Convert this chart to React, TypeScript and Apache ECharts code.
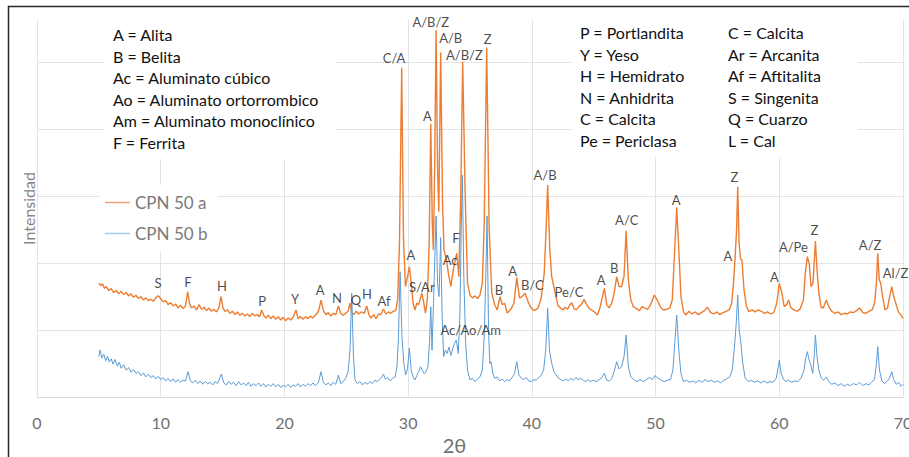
import React, { useEffect, useRef } from "react";
import * as echarts from "echarts";

const xTicks = [0, 10, 20, 30, 40, 50, 60, 70];
const seriesNames = ["CPN 50 a", "CPN 50 b"];

const cpn50a: [number, number][] = [
  [5.0,1700],[5.15,1660],[5.3,1690],[5.45,1620],[5.6,1650],[5.8,1590],[6.0,1620],[6.2,1560],[6.4,1590],[6.6,1540],[6.8,1580],[7.0,1530],[7.2,1560],[7.4,1510],[7.6,1540],[7.8,1490],[8.0,1520],[8.2,1470],[8.4,1500],[8.6,1450],[8.8,1480],[9.0,1440],[9.2,1460],[9.4,1430],[9.6,1480],[9.8,1512],[10.0,1470],[10.2,1420],[10.4,1440],[10.6,1380],[10.8,1410],[11.0,1360],[11.2,1390],[11.4,1330],[11.6,1370],[11.8,1320],[12.0,1360],[12.18,1572],[12.35,1380],[12.5,1330],[12.7,1360],[12.9,1300],[13.1,1380],[13.3,1310],[13.5,1340],[13.7,1290],[13.9,1330],[14.1,1280],[14.3,1310],[14.5,1270],[14.7,1330],[14.87,1498],[15.05,1320],[15.2,1280],[15.4,1300],[15.6,1250],[15.8,1280],[16.0,1230],[16.2,1270],[16.4,1220],[16.6,1250],[16.8,1210],[17.0,1240],[17.2,1200],[17.4,1250],[17.6,1210],[17.8,1230],[18.0,1200],[18.16,1300],[18.35,1210],[18.5,1180],[18.7,1220],[18.9,1170],[19.1,1210],[19.3,1160],[19.5,1200],[19.7,1150],[19.9,1190],[20.1,1140],[20.3,1180],[20.5,1150],[20.7,1190],[20.94,1299],[21.1,1170],[21.3,1200],[21.5,1160],[21.7,1200],[21.9,1170],[22.1,1210],[22.3,1180],[22.5,1220],[22.75,1280],[22.96,1448],[23.15,1290],[23.35,1230],[23.55,1260],[23.75,1210],[23.95,1250],[24.15,1230],[24.36,1359],[24.55,1250],[24.75,1220],[24.95,1250],[25.15,1280],[25.3,1400],[25.45,1260],[25.6,1230],[25.8,1280],[26.0,1240],[26.2,1270],[26.45,1250],[26.65,1359],[26.85,1220],[27.0,1180],[27.2,1230],[27.4,1170],[27.6,1240],[27.8,1230],[28.0,1314],[28.2,1240],[28.4,1270],[28.6,1250],[28.8,1280],[29.0,1290],[29.15,1450],[29.3,2300],[29.48,4916],[29.62,2400],[29.78,1650],[29.9,1750],[30.1,1945],[30.25,1700],[30.4,1400],[30.55,1300],[30.7,1400],[30.85,1380],[31.0,1480],[31.1,1550],[31.25,1420],[31.4,1254],[31.55,1450],[31.7,2300],[31.83,4076],[31.95,2600],[32.04,2195],[32.15,3500],[32.26,5480],[32.38,3400],[32.48,2766],[32.63,5146],[32.78,2900],[32.9,2195],[33.1,2045],[33.25,1850],[33.45,1647],[33.65,1900],[33.93,2150],[34.1,1796],[34.25,3000],[34.41,5006],[34.6,3100],[34.8,1700],[35.0,1520],[35.2,1480],[35.4,1510],[35.6,1470],[35.8,1520],[36.0,1700],[36.15,2600],[36.35,5220],[36.55,2500],[36.76,1553],[37.0,1373],[37.2,1299],[37.43,1498],[37.6,1380],[37.8,1400],[38.0,1254],[38.3,1309],[38.55,1400],[38.78,1787],[39.0,1478],[39.2,1498],[39.45,1548],[39.7,1423],[39.9,1340],[40.1,1300],[40.3,1299],[40.5,1330],[40.75,1470],[41.0,1851],[41.15,2500],[41.28,3165],[41.45,2200],[41.6,1800],[41.8,1627],[42.1,1373],[42.3,1330],[42.5,1299],[42.7,1340],[42.9,1310],[43.05,1370],[43.22,1408],[43.4,1320],[43.6,1300],[43.8,1350],[44.0,1380],[44.22,1458],[44.4,1390],[44.6,1330],[44.8,1300],[45.0,1280],[45.15,1250],[45.3,1224],[45.5,1330],[45.65,1450],[45.86,1623],[46.05,1380],[46.25,1330],[46.45,1400],[46.65,1550],[46.86,1796],[47.05,1650],[47.25,1647],[47.45,1800],[47.62,2483],[47.8,1750],[48.0,1450],[48.2,1348],[48.45,1320],[48.7,1290],[48.9,1350],[49.1,1330],[49.35,1310],[49.6,1380],[49.9,1523],[50.15,1440],[50.4,1340],[50.65,1300],[50.9,1310],[51.15,1330],[51.35,1450],[51.52,2100],[51.71,2832],[51.88,2200],[52.05,1500],[52.25,1280],[52.45,1224],[52.7,1280],[52.95,1240],[53.2,1270],[53.45,1230],[53.7,1260],[53.95,1290],[54.2,1340],[54.45,1260],[54.7,1240],[54.95,1270],[55.2,1230],[55.45,1260],[55.7,1280],[55.95,1300],[56.15,1400],[56.3,1700],[56.43,2095],[56.55,2500],[56.64,3140],[56.75,2300],[56.87,2060],[56.98,2045],[57.15,1600],[57.35,1350],[57.55,1274],[57.8,1300],[58.05,1270],[58.3,1300],[58.55,1280],[58.8,1250],[59.05,1270],[59.3,1240],[59.55,1260],[59.8,1400],[60.0,1697],[60.2,1560],[60.4,1350],[60.6,1380],[60.75,1450],[60.95,1330],[61.2,1300],[61.45,1280],[61.7,1320],[61.95,1450],[62.1,1850],[62.27,2095],[62.42,1995],[62.57,1647],[62.72,1700],[62.82,2000],[62.92,2329],[63.05,1896],[63.2,1550],[63.38,1340],[63.55,1329],[63.8,1448],[64.0,1350],[64.25,1280],[64.5,1250],[64.75,1270],[65.0,1230],[65.25,1250],[65.5,1240],[65.75,1270],[66.0,1260],[66.25,1290],[66.5,1330],[66.75,1260],[67.0,1250],[67.25,1280],[67.5,1300],[67.7,1400],[67.85,1700],[67.96,2145],[68.08,1750],[68.2,1697],[68.35,1500],[68.55,1300],[68.75,1330],[68.9,1480],[69.09,1647],[69.25,1500],[69.45,1380],[69.65,1260],[69.85,1220],[70.0,1175]
];

const cpn50b: [number, number][] = [
  [5.0,600],[5.1,700],[5.25,580],[5.4,640],[5.55,540],[5.7,610],[5.85,520],[6.0,570],[6.15,490],[6.3,560],[6.5,460],[6.65,520],[6.8,430],[7.0,480],[7.2,400],[7.4,440],[7.6,370],[7.8,410],[8.0,350],[8.2,380],[8.4,320],[8.6,360],[8.8,300],[9.0,340],[9.2,290],[9.4,320],[9.6,270],[9.8,310],[10.0,260],[10.2,290],[10.4,240],[10.6,280],[10.8,230],[11.0,270],[11.2,220],[11.4,260],[11.6,220],[11.8,250],[12.0,240],[12.2,378],[12.4,240],[12.6,210],[12.8,250],[13.0,200],[13.2,240],[13.4,190],[13.6,230],[13.8,200],[14.0,220],[14.2,180],[14.4,230],[14.6,200],[14.9,343],[15.1,210],[15.3,180],[15.5,230],[15.7,190],[15.9,220],[16.1,170],[16.3,230],[16.5,180],[16.7,210],[16.9,170],[17.1,220],[17.3,160],[17.5,200],[17.7,170],[17.9,210],[18.1,160],[18.3,200],[18.5,150],[18.7,190],[18.9,160],[19.1,200],[19.3,150],[19.5,190],[19.7,140],[19.9,180],[20.1,150],[20.3,190],[20.5,140],[20.7,180],[20.9,160],[21.1,200],[21.3,150],[21.5,190],[21.7,160],[21.9,200],[22.1,170],[22.3,210],[22.5,170],[22.75,220],[22.96,378],[23.15,220],[23.35,180],[23.55,210],[23.75,170],[23.95,220],[24.15,190],[24.36,328],[24.55,200],[24.75,230],[24.95,280],[25.15,380],[25.3,700],[25.44,1548],[25.58,600],[25.7,260],[25.9,200],[26.1,230],[26.3,180],[26.5,220],[26.7,190],[26.9,230],[27.1,200],[27.3,250],[27.5,230],[27.7,270],[27.9,300],[28.0,343],[28.15,270],[28.35,290],[28.55,240],[28.75,280],[28.95,300],[29.1,450],[29.22,900],[29.35,1870],[29.5,900],[29.65,500],[29.8,330],[29.95,420],[30.1,730],[30.25,400],[30.4,300],[30.55,254],[30.7,320],[30.85,380],[31.0,452],[31.15,400],[31.3,350],[31.45,380],[31.6,450],[31.72,800],[31.83,1348],[31.93,700],[32.05,1400],[32.16,2100],[32.26,2700],[32.38,1700],[32.5,1500],[32.63,2380],[32.75,1200],[32.87,602],[33.0,700],[33.15,650],[33.3,746],[33.45,620],[33.6,720],[33.75,800],[33.9,851],[34.05,650],[34.18,1200],[34.3,2600],[34.38,3314],[34.5,1800],[34.65,800],[34.8,400],[35.0,254],[35.2,280],[35.4,230],[35.6,270],[35.8,300],[36.0,400],[36.15,900],[36.3,2000],[36.38,2700],[36.5,1000],[36.6,500],[36.7,527],[36.85,350],[37.0,280],[37.2,300],[37.4,240],[37.6,270],[37.8,230],[38.0,260],[38.2,240],[38.4,290],[38.6,350],[38.78,527],[38.95,330],[39.15,280],[39.35,260],[39.55,290],[39.75,240],[39.95,230],[40.15,260],[40.35,250],[40.55,290],[40.75,320],[40.95,400],[41.12,700],[41.28,1324],[41.42,700],[41.6,507],[41.78,380],[41.95,330],[42.15,280],[42.35,260],[42.55,240],[42.75,270],[42.95,240],[43.15,280],[43.35,250],[43.55,290],[43.75,260],[43.95,280],[44.15,250],[44.35,230],[44.55,260],[44.75,230],[44.95,250],[45.2,230],[45.45,260],[45.65,290],[45.86,354],[46.05,250],[46.25,240],[46.45,270],[46.65,380],[46.86,527],[47.05,420],[47.25,450],[47.45,600],[47.62,926],[47.8,450],[48.0,300],[48.25,260],[48.5,230],[48.75,260],[49.0,230],[49.25,260],[49.5,290],[49.75,260],[49.95,320],[50.2,280],[50.45,250],[50.7,230],[50.95,250],[51.2,260],[51.4,400],[51.55,800],[51.71,1224],[51.88,700],[52.05,350],[52.25,230],[52.5,250],[52.75,220],[53.0,240],[53.25,210],[53.5,250],[53.75,220],[54.0,260],[54.25,230],[54.5,250],[54.75,220],[55.0,240],[55.25,210],[55.5,250],[55.75,270],[56.0,300],[56.2,400],[56.4,800],[56.52,1100],[56.64,1523],[56.76,1000],[56.9,800],[57.05,500],[57.25,280],[57.5,230],[57.75,250],[58.0,220],[58.25,240],[58.5,210],[58.75,240],[59.0,210],[59.25,230],[59.5,220],[59.75,280],[59.92,450],[60.0,552],[60.15,350],[60.35,260],[60.55,230],[60.75,250],[61.0,220],[61.25,240],[61.5,230],[61.75,280],[62.0,400],[62.15,600],[62.27,677],[62.4,560],[62.55,480],[62.7,350],[62.82,600],[62.92,926],[63.05,600],[63.2,400],[63.4,280],[63.6,250],[63.8,300],[64.0,230],[64.25,190],[64.5,210],[64.75,170],[65.0,200],[65.25,160],[65.5,190],[65.75,170],[66.0,200],[66.25,180],[66.5,220],[66.75,170],[67.0,200],[67.25,180],[67.5,230],[67.7,260],[67.85,500],[67.96,751],[68.1,400],[68.3,240],[68.5,200],[68.7,230],[68.9,280],[69.09,378],[69.25,260],[69.45,190],[69.65,220],[69.85,160],[70.0,190]
];

const peakLabels: [number, number, string][] = [
  [9.78,1702,"S"],[12.2,1721,"F"],[14.96,1657,"H"],[18.19,1433,"P"],[20.86,1459,"Y"],[22.88,1597,"A"],[24.25,1483,"N"],[25.79,1448,"Q"],[26.68,1538,"H"],[28.05,1433,"Af"],
  [28.86,5066,"C/A"],[30.23,2120,"A"],[31.1,1647,"S/Ar"],[31.55,4195,"A"],[31.83,5604,"A/B/Z"],[33.44,5360,"A/B"],[34.55,5110,"A/B/Z"],[36.43,5345,"Z"],[33.39,2045,"Ac"],[33.87,2369,"F"],[35.06,1000,"Ac/Ao/Am"],
  [37.35,1597,"B"],[38.45,1886,"A"],[40.04,1672,"B/C"],[41.07,3315,"A/B"],[43.0,1572,"Pe/C"],[45.6,1747,"A"],[46.65,1921,"B"],[47.67,2643,"A/C"],[51.66,2941,"A"],
  [55.84,2105,"A"],[56.37,3289,"Z"],[59.6,1796,"A"],[61.14,2235,"A/Pe"],[62.84,2493,"Z"],[67.34,2269,"A/Z"],[69.4,1847,"Al/Z"]
];

const keyLeft = ["A = Alita", "B = Belita", "Ac = Aluminato cúbico", "Ao = Aluminato ortorrombico", "Am = Aluminato monoclínico", "F = Ferrita"];
const keyMid = ["P = Portlandita", "Y = Yeso", "H = Hemidrato", "N = Anhidrita", "C = Calcita", "Pe = Periclasa"];
const keyRight = ["C = Calcita", "Ar = Arcanita", "Af = Aftitalita", "S = Singenita", "Q = Cuarzo", "L = Cal"];

const FONT = 'Lato, "Noto Sans", sans-serif';

export default function App() {
  const ref = useRef<HTMLDivElement>(null);
  useEffect(() => {
    if (!ref.current) return;
    const chart = echarts.init(ref.current, undefined, { renderer: "svg" });
    const keyText = (lines: string[], x: number, y: number) => ({
      type: "text",
      x,
      y,
      z: 5,
      silent: true,
      style: {
        text: lines.join("\n"),
        font: `16px ${FONT}`,
        fill: "#111",
        lineHeight: 21.5,
        textVerticalAlign: "top",
      },
    });
    chart.setOption({
      animation: false,
      backgroundColor: "#fff",
      grid: { left: 37, top: 20, width: 866, height: 377, containLabel: false, outerBoundsMode: "none" },
      xAxis: {
        type: "value",
        min: xTicks[0],
        max: xTicks[xTicks.length - 1],
        interval: 10,
        name: "2θ",
        nameLocation: "middle",
        nameGap: 38,
        nameTextStyle: { fontSize: 20, color: "#707070", fontFamily: FONT, padding: [0, 31, 0, 0] },
        axisLine: { show: true, lineStyle: { color: "#d9d9d9", width: 1 } },
        axisTick: { show: false },
        axisLabel: { margin: 17, fontSize: 16, color: "#707070", fontFamily: FONT },
        splitLine: { show: true, lineStyle: { color: "#e3e3e3", width: 1 } },
      },
      yAxis: {
        type: "value",
        min: 0,
        max: 5630,
        interval: 1000,
        name: "Intensidad",
        nameLocation: "middle",
        nameGap: 1,
        nameTextStyle: { fontSize: 16, color: "#858585", fontFamily: FONT },
        axisLine: { show: false },
        axisTick: { show: false },
        axisLabel: { show: false },
        splitLine: { show: true, showMaxLine: false, lineStyle: { color: "#e3e3e3", width: 1 } },
      },
      legend: {
        data: seriesNames.map((n) => ({ name: n, icon: "rect" })),
        orient: "vertical",
        left: 99,
        top: 185,
        padding: [9, 10, 9, 6],
        itemGap: 14,
        itemWidth: 25,
        itemHeight: 1.5,
        backgroundColor: "#fff",
        textStyle: { fontSize: 17, color: "#7a7a7a", fontFamily: FONT, lineHeight: 16 },
      },
      graphic: {
        elements: [
          { type: "rect", z: 1, silent: true, shape: { x: 105, y: 18, width: 230, height: 141 }, style: { fill: "#fff" } },
          { type: "rect", z: 1, silent: true, shape: { x: 572, y: 18, width: 286, height: 139 }, style: { fill: "#fff" } },
          keyText(keyLeft, 113, 24),
          keyText(keyMid, 580, 22),
          keyText(keyRight, 728, 22),
          { type: "line", z: 20, silent: true, shape: { x1: 8, y1: 6.5, x2: 909, y2: 6.5 }, style: { stroke: "#2a2a2a", lineWidth: 1.5 } },
          { type: "line", z: 20, silent: true, shape: { x1: 8.5, y1: 6, x2: 8.5, y2: 457 }, style: { stroke: "#2a2a2a", lineWidth: 1.5 } },
        ],
      },
      series: [
        {
          name: seriesNames[0],
          type: "line",
          data: cpn50a,
          symbol: "none",
          lineStyle: { color: "#ED7D31", width: 1.4 },
          itemStyle: { color: "#F0A070" },
          z: 2,
        },
        {
          name: seriesNames[1],
          type: "line",
          data: cpn50b,
          symbol: "none",
          lineStyle: { color: "#5B9BD5", width: 1 },
          itemStyle: { color: "#A9C8E8" },
          z: 3,
        },
        {
          name: "labels",
          type: "scatter",
          data: peakLabels,
          symbolSize: 0,
          silent: true,
          z: 4,
          label: {
            show: true,
            position: "inside",
            formatter: (p: any) => p.value[2],
            color: "#1a1a1a",
            fontSize: 13,
            lineHeight: 12,
            fontFamily: FONT,
          },
        },
      ],
    });
    return () => chart.dispose();
  }, []);
  return <div ref={ref} style={{ position: "fixed", left: 0, top: 0, width: 909, height: 457, overflow: "hidden" }} />;
}
